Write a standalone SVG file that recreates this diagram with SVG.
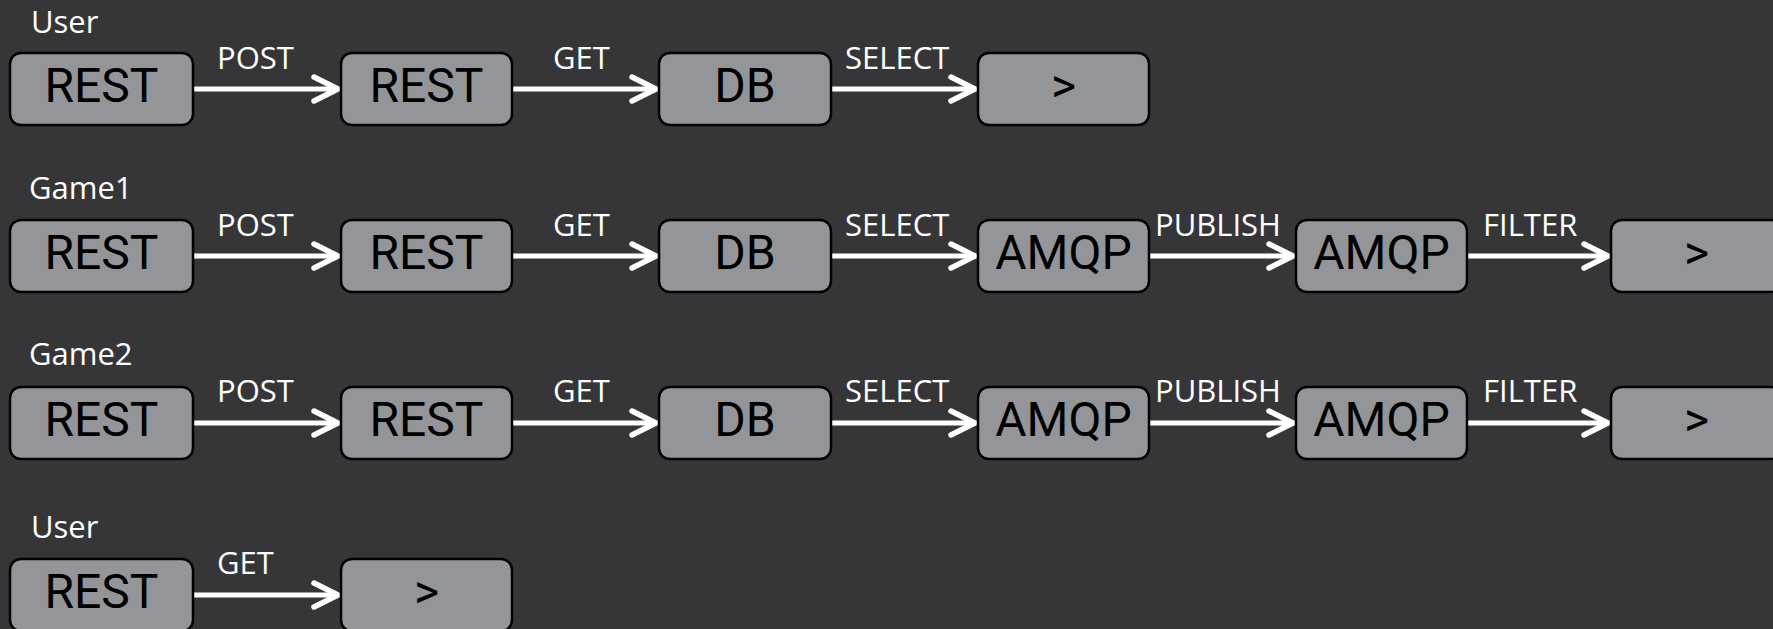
<svg xmlns="http://www.w3.org/2000/svg" width="1773" height="629" viewBox="0 0 1773 629">
<style>
.bg{fill:#363638}
.box{fill:#939598;stroke:#000;stroke-width:2.5}
.bt{font-family:Roboto,"Liberation Sans",sans-serif;font-size:48px;fill:#000;text-anchor:middle}
.lbl{font-family:"Open Sans","Liberation Sans",sans-serif;font-size:31px;fill:#fff}
.con{stroke:#fff;stroke-width:5;fill:none}
</style>
<defs>
<marker id="ah" markerUnits="userSpaceOnUse" markerWidth="40" markerHeight="40" refX="0" refY="0" viewBox="-30 -20 40 40" orient="auto" overflow="visible">
<path d="M-24,-12 L0,0 L-24,12" fill="none" stroke="#fff" stroke-width="5.5" stroke-linecap="round" stroke-linejoin="miter"/>
</marker>
</defs>
<rect class="bg" x="0" y="0" width="1773" height="629"/>

<g id="row-labels">
<text class="lbl" x="31" y="33">User</text>
<text class="lbl" x="29" y="199">Game1</text>
<text class="lbl" x="29" y="365">Game2</text>
<text class="lbl" x="31" y="538">User</text>
</g>

<g id="connectors">
<g id="c-r1">
<line class="con" x1="193" y1="89" x2="338" y2="89" marker-end="url(#ah)"/>
<line class="con" x1="512" y1="89" x2="656" y2="89" marker-end="url(#ah)"/>
<line class="con" x1="831" y1="89" x2="975" y2="89" marker-end="url(#ah)"/>
<text class="lbl" x="217" y="69">POST</text>
<text class="lbl" x="553" y="69">GET</text>
<text class="lbl" x="845" y="69">SELECT</text>
</g>
<g id="c-r2">
<line class="con" x1="193" y1="256" x2="338" y2="256" marker-end="url(#ah)"/>
<line class="con" x1="512" y1="256" x2="656" y2="256" marker-end="url(#ah)"/>
<line class="con" x1="831" y1="256" x2="975" y2="256" marker-end="url(#ah)"/>
<line class="con" x1="1149" y1="256" x2="1293" y2="256" marker-end="url(#ah)"/>
<line class="con" x1="1467" y1="256" x2="1608" y2="256" marker-end="url(#ah)"/>
<text class="lbl" x="217" y="236">POST</text>
<text class="lbl" x="553" y="236">GET</text>
<text class="lbl" x="845" y="236">SELECT</text>
<text class="lbl" x="1155" y="236">PUBLISH</text>
<text class="lbl" x="1483" y="236">FILTER</text>
</g>
<g id="c-r3">
<line class="con" x1="193" y1="423" x2="338" y2="423" marker-end="url(#ah)"/>
<line class="con" x1="512" y1="423" x2="656" y2="423" marker-end="url(#ah)"/>
<line class="con" x1="831" y1="423" x2="975" y2="423" marker-end="url(#ah)"/>
<line class="con" x1="1149" y1="423" x2="1293" y2="423" marker-end="url(#ah)"/>
<line class="con" x1="1467" y1="423" x2="1608" y2="423" marker-end="url(#ah)"/>
<text class="lbl" x="217" y="402">POST</text>
<text class="lbl" x="553" y="402">GET</text>
<text class="lbl" x="845" y="402">SELECT</text>
<text class="lbl" x="1155" y="402">PUBLISH</text>
<text class="lbl" x="1483" y="402">FILTER</text>
</g>
<g id="c-r4">
<line class="con" x1="193" y1="595" x2="338" y2="595" marker-end="url(#ah)"/>
<text class="lbl" x="217" y="574">GET</text>
</g>
</g>

<g id="r1-rest1"><rect class="box" x="10" y="53" width="183" height="72" rx="11"/><text class="bt" x="101.5" y="102">REST</text></g>
<g id="r1-rest2"><rect class="box" x="341" y="53" width="171" height="72" rx="11"/><text class="bt" x="426.5" y="102">REST</text></g>
<g id="r1-db"><rect class="box" x="659" y="53" width="172" height="72" rx="11"/><text class="bt" x="745" y="102">DB</text></g>
<g id="r1-end"><rect class="box" x="978" y="53" width="171" height="72" rx="11"/><text class="bt" x="1063.5" y="102">&gt;</text></g>

<g id="r2-rest1"><rect class="box" x="10" y="220" width="183" height="72" rx="11"/><text class="bt" x="101.5" y="269">REST</text></g>
<g id="r2-rest2"><rect class="box" x="341" y="220" width="171" height="72" rx="11"/><text class="bt" x="426.5" y="269">REST</text></g>
<g id="r2-db"><rect class="box" x="659" y="220" width="172" height="72" rx="11"/><text class="bt" x="745" y="269">DB</text></g>
<g id="r2-amqp1"><rect class="box" x="978" y="220" width="171" height="72" rx="11"/><text class="bt" x="1063.5" y="269">AMQP</text></g>
<g id="r2-amqp2"><rect class="box" x="1296" y="220" width="171" height="72" rx="11"/><text class="bt" x="1381.5" y="269">AMQP</text></g>
<g id="r2-end"><rect class="box" x="1611" y="220" width="171" height="72" rx="11"/><text class="bt" x="1696.5" y="269">&gt;</text></g>

<g id="r3-rest1"><rect class="box" x="10" y="387" width="183" height="72" rx="11"/><text class="bt" x="101.5" y="436">REST</text></g>
<g id="r3-rest2"><rect class="box" x="341" y="387" width="171" height="72" rx="11"/><text class="bt" x="426.5" y="436">REST</text></g>
<g id="r3-db"><rect class="box" x="659" y="387" width="172" height="72" rx="11"/><text class="bt" x="745" y="436">DB</text></g>
<g id="r3-amqp1"><rect class="box" x="978" y="387" width="171" height="72" rx="11"/><text class="bt" x="1063.5" y="436">AMQP</text></g>
<g id="r3-amqp2"><rect class="box" x="1296" y="387" width="171" height="72" rx="11"/><text class="bt" x="1381.5" y="436">AMQP</text></g>
<g id="r3-end"><rect class="box" x="1611" y="387" width="171" height="72" rx="11"/><text class="bt" x="1696.5" y="436">&gt;</text></g>

<g id="r4-rest1"><rect class="box" x="10" y="559" width="183" height="72" rx="11"/><text class="bt" x="101.5" y="608">REST</text></g>
<g id="r4-end"><rect class="box" x="341" y="559" width="171" height="72" rx="11"/><text class="bt" x="426.5" y="608">&gt;</text></g>
</svg>
